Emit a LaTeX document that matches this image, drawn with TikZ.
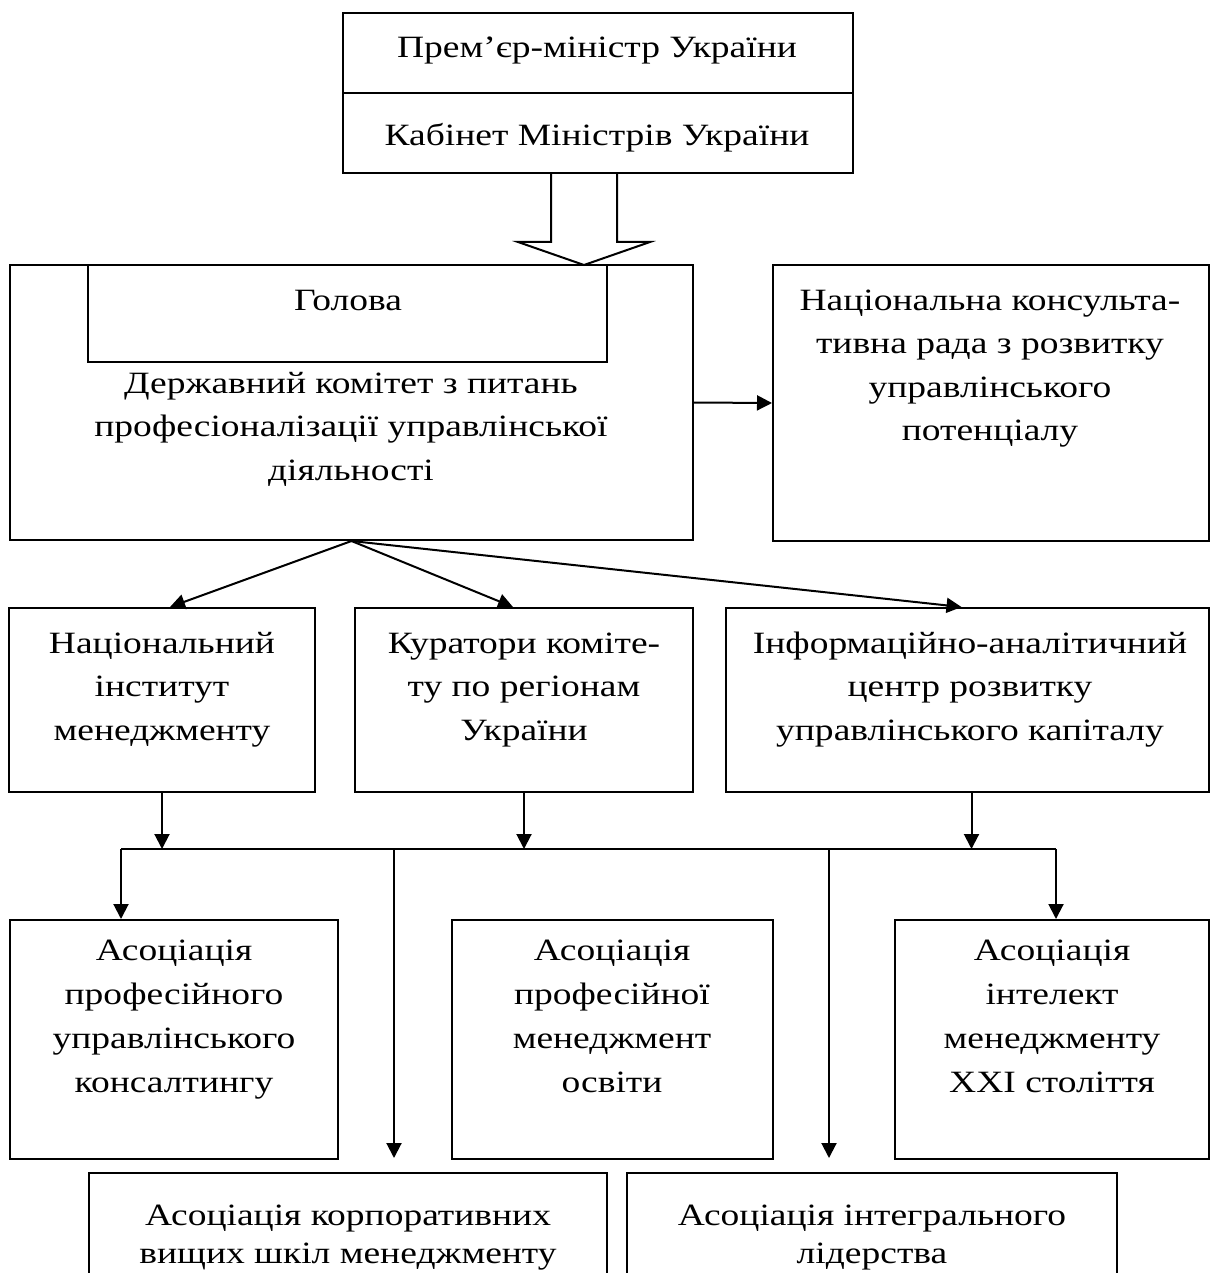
\documentclass[tikz,border=0pt]{standalone}
\usepackage{fontspec}
\setmainfont{Liberation Serif}[FakeStretch=1.21]
\usetikzlibrary{fit,calc,arrows.meta}
\newcommand\myst{\rule{0pt}{15pt}}
\tikzset{
  box/.style={draw, line width=1pt, inner sep=0pt, rectangle},
  txt/.style={inner sep=0pt, anchor=north, align=center, font=\fontsize{15.5pt}{21.75pt}\selectfont},
  txtc/.style={inner sep=0pt, anchor=north, align=center, font=\fontsize{15.5pt}{22pt}\selectfont},
  txtb/.style={inner sep=0pt, anchor=north, align=center, font=\fontsize{15.5pt}{19.25pt}\selectfont},
  conn/.style={line width=1pt},
  arr/.style={line width=1pt, -{Triangle[length=7.5pt,width=7.5pt]}},
}
\begin{document}
\begin{tikzpicture}[x=0.5pt,y=-0.5pt]
\clip (0,0) rectangle (1211,1273);
% top box
\node[box, fit={(343,13) (853,173)}] (pm) {};
\draw[line width=1pt] (343,93) -- (853,93);
\node[txt] (pmt) at (597,57-30) {\myst Прем’єр-міністр України};
\node[txt] (kmt) at (597,145-30) {\myst Кабінет Міністрів України};
% hollow arrow
\draw[line width=1pt, line join=miter] (551,173) -- (551,242) -- (518,242) -- (584,265) -- (650,242) -- (617,242) -- (617,173);
% big box
\node[box, fit={(10,265) (693,540)}] (dk) {};
\node[box, fit={(88,265) (607,362)}] (gl) {};
\node[txt] (glt) at (348,310-30) {\myst Голова};
\node[txt] (dkt) at (351,393-30) {\myst Державний комітет з питань\\професіоналізації управлінської\\діяльності};
% right box
\node[box, fit={(773,265) (1209,541)}] (nr) {};
\node[txt] (nrt) at (990,310-30) {\myst Національна консульта-\\тивна рада з розвитку\\управлінського\\потенціалу};
\draw[arr] (dk.east) -- (nr.west);
% row 2
\node[box, fit={(9,608) (315,792)}] (ni) {};
\node[box, fit={(355,608) (693,792)}] (ku) {};
\node[box, fit={(726,608) (1209,792)}] (ic) {};
\node[txt] (nit) at (162,653-30) {\myst Національний\\інститут\\менеджменту};
\node[txt] (kut) at (524,653-30) {\myst Куратори коміте-\\ту по регіонам\\України};
\node[txt] (ict) at (970,653-30) {\myst Інформаційно-аналітичний\\центр розвитку\\управлінського капіталу};
\draw[arr] (dk.south) -- ($(ni.north)+(8,0)$);
\draw[arr] (dk.south) -- ($(ku.north)+(-11,0)$);
\draw[arr] (dk.south) -- ($(ic.north)+(-6,0)$);
% bus
\coordinate (busL) at (121,849);
\coordinate (busR) at (1056,849);
\coordinate (b1) at (394,849);
\coordinate (b2) at (829,849);
\draw[arr] (ni.south) -- (ni.south |- busL);
\draw[arr] (ku.south) -- (ku.south |- busL);
\draw[arr] ($(ic.south)+(4,0)$) -- ($(ic.south |- busL)+(4,0)$);
\draw[conn] (busL) -- (busR);
% row 3
\node[box, fit={(10,920) (338,1159)}] (a1) {};
\node[box, fit={(452,920) (773,1159)}] (a2) {};
\node[box, fit={(895,920) (1209,1159)}] (a3) {};
\node[txtc] (a1t) at (174,960-30) {\myst Асоціація\\професійного\\управлінського\\консалтингу};
\node[txtc] (a2t) at (612,960-30) {\myst Асоціація\\професійної\\менеджмент\\освіти};
\node[txtc] (a3t) at (1052,960-30) {\myst Асоціація\\інтелект\\менеджменту\\XXI століття};
\draw[arr] (busL) -- (busL |- a1.north);
\draw[arr] (busR) -- (busR |- a3.north);
% row 4
\coordinate (e1) at (394,1158);
\coordinate (e2) at (829,1158);
\draw[arr] (b1) -- (e1);
\draw[arr] (b2) -- (e2);
\node[box, fit={(89,1173) (607,1300)}] (c1) {};
\node[box, fit={(627,1173) (1117,1300)}] (c2) {};
\node[txtb] (c1t) at (348,1225-30) {\myst Асоціація корпоративних\\вищих шкіл менеджменту};
\node[txtb] (c2t) at (872,1225-30) {\myst Асоціація інтегрального\\лідерства};
\end{tikzpicture}
\end{document}
